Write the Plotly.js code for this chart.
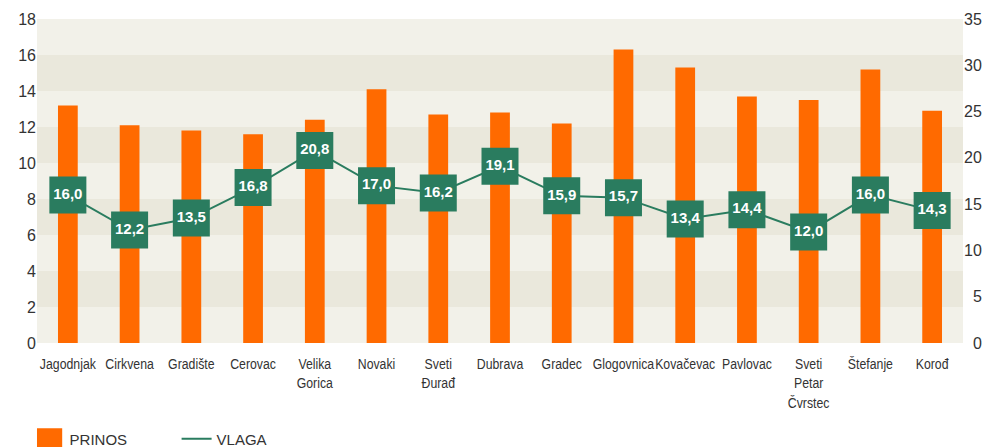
<!DOCTYPE html>
<html>
<head>
<meta charset="utf-8">
<script src="https://cdn.plot.ly/plotly-3.0.1.min.js"></script>
<style>html,body{margin:0;padding:0;background:#fff;}#chart{width:984px;height:447px;}</style>
</head>
<body>
<div id="chart"></div>
<script>
const categories = ["Jagodnjak","Cirkvena","Gradište","Cerovac","Velika<br>Gorica","Novaki","Sveti<br>Đurađ","Dubrava","Gradec","Glogovnica","Kovačevac","Pavlovac","Sveti<br>Petar<br>Čvrstec","Štefanje","Korođ"];
const prinos = [13.2, 12.1, 11.8, 11.6, 12.4, 14.1, 12.7, 12.8, 12.2, 16.3, 15.3, 13.7, 13.5, 15.2, 12.9];
const vlaga = [16.0, 12.2, 13.5, 16.8, 20.8, 17.0, 16.2, 19.1, 15.9, 15.7, 13.4, 14.4, 12.0, 16.0, 14.3];
const leftTicks = [0, 2, 4, 6, 8, 10, 12, 14, 16, 18];
const rightTicks = [0, 5, 10, 15, 20, 25, 30, 35];
const seriesNames = ["PRINOS", "VLAGA"];

const orange = "#ff6a00";
const green = "#2a7c5f";
const baseFont = "Liberation Sans, Arial, Helvetica, sans-serif";

const shapes = [];
for (let i = 0; i + 2 <= 18; i += 4) {
  shapes.push({type: "rect", xref: "paper", yref: "y", x0: 0, x1: 1, y0: i + 2, y1: i + 4,
    fillcolor: "#eae8dc", line: {width: 0}, layer: "below"});
}

const rightText = rightTicks.map(v => (v < 10 ? "\u2007" : "") + v);
const vlagaText = vlaga.map(v => v.toFixed(1).replace(".", ","));

const traces = [
  {type: "bar", name: seriesNames[0], x: categories, y: prinos, marker: {color: orange, line: {width: 0}},
   width: 0.32, hoverinfo: "skip"},
  {type: "scatter", name: seriesNames[1], x: categories, y: vlaga, yaxis: "y2",
   mode: "lines", line: {color: green, width: 2}, hoverinfo: "skip"},
  {type: "scatter", name: seriesNames[1], x: categories, y: vlaga, yaxis: "y2",
   mode: "markers+text", showlegend: false,
   marker: {symbol: "square", size: 37, color: green, line: {width: 0}},
   text: vlagaText,
   textposition: "middle center",
   textfont: {family: baseFont, size: 15, color: "#ffffff", weight: "bold"},
   cliponaxis: false, hoverinfo: "skip"}
];

const layout = {
  width: 984, height: 447,
  margin: {l: 37, r: 21, t: 19, b: 104},
  paper_bgcolor: "#ffffff",
  plot_bgcolor: "#f2f1e9",
  showlegend: true,
  legend: {orientation: "h", xref: "paper", x: -0.008, xanchor: "left",
    yref: "container", y: 0.055, yanchor: "top",
    font: {family: baseFont, size: 15, color: "#333333"},
    entrywidth: 102, entrywidthmode: "pixels", traceorder: "normal", bgcolor: "rgba(0,0,0,0)"},
  xaxis: {type: "category", range: [-0.5, 14.5], showgrid: false, zeroline: false, showline: false, ticks: "",
    tickfont: {family: baseFont, size: 15, color: "#333333"}, ticklabelstandoff: 10,
    tickangle: 0, fixedrange: true, automargin: false},
  yaxis: {range: [0, 18], tickvals: leftTicks, showgrid: false, zeroline: false, showline: false, ticks: "",
    tickfont: {family: baseFont, size: 16, color: "#333333"}, fixedrange: true, automargin: false},
  yaxis2: {range: [0, 35], overlaying: "y", side: "right", tickvals: rightTicks, ticktext: rightText,
    showgrid: false, zeroline: false, showline: false, ticks: "",
    tickfont: {family: baseFont, size: 16, color: "#333333"}, fixedrange: true, automargin: false},
  shapes: shapes
};

function tweak(gd) {
  // condensed look for the category labels
  gd.querySelectorAll("g.xtick text").forEach(function (t) {
    if (t.dataset.cond) return;
    const tr = t.getAttribute("transform") || "";
    t.setAttribute("transform", tr + " scale(0.82,1)");
    t.dataset.cond = "1";
  });
  // larger square swatch for the bar legend entry
  const firstTrace = gd.querySelector("g.legend g.traces");
  if (firstTrace) {
    firstTrace.querySelectorAll("g.legendpoints path").forEach(function (p) {
      if (p.dataset.big) return;
      const tr = p.getAttribute("transform") || "";
      p.setAttribute("transform", tr + " scale(2.1,1.75)");
      p.dataset.big = "1";
    });
  }
}

Plotly.newPlot("chart", traces, layout, {displayModeBar: false, staticPlot: true}).then(function (gd) {
  tweak(gd);
  setTimeout(function () { tweak(gd); }, 50);
});
</script>
</body>
</html>
